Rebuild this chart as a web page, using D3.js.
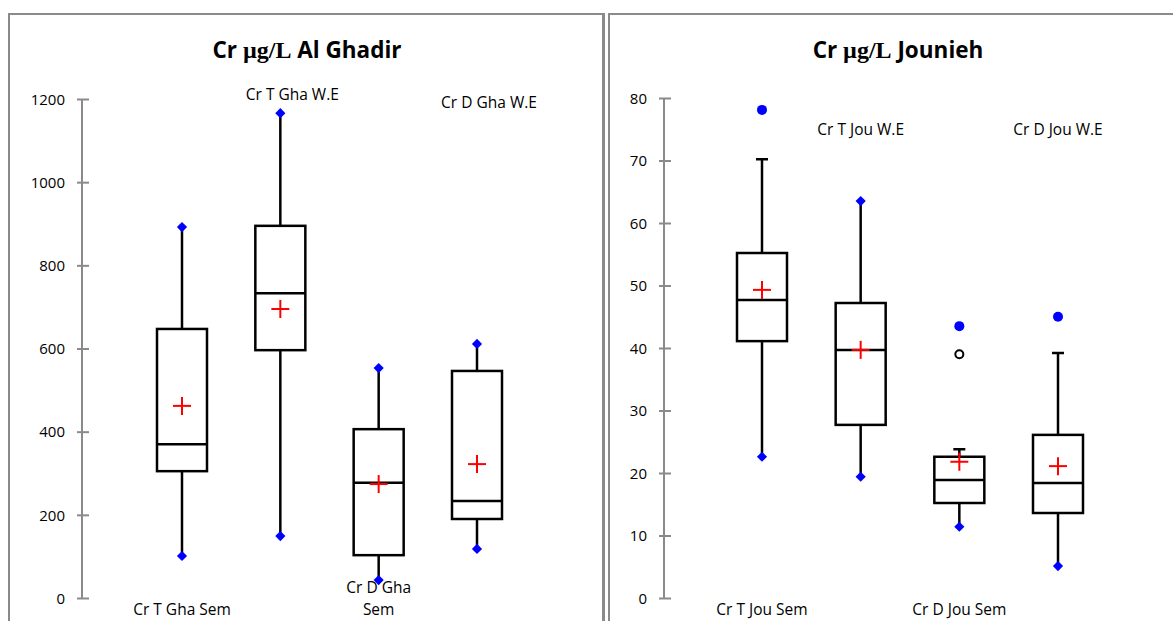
<!DOCTYPE html>
<html>
<head>
<meta charset="utf-8">
<script src="https://cdn.jsdelivr.net/npm/d3@7"></script>
<style>
  html, body { margin: 0; padding: 0; background: #fff; }
  svg { display: block; }
</style>
</head>
<body>
<svg id="chart" width="1173" height="621"></svg>
<script>
// ---------------- DATA ----------------
const ghaCategories = ["Cr T Gha Sem", "Cr T Gha W.E", "Cr D Gha\nSem", "Cr D Gha W.E"];
const ghaQ1        = [305, 596, 103, 190];
const ghaMedian    = [370, 733, 277, 233];
const ghaQ3        = [647, 895, 406, 546];
const ghaMean      = [462, 695, 274, 322];
const ghaWhiskLow  = [101, 149, 43, 118];
const ghaWhiskHigh = [892, 1166, 553, 611];
const ghaMin       = [101, 149, 43, 118];
const ghaMax       = [892, 1166, 553, 611];
const ghaOutliers  = [[], [], [], []];
const ghaTicks     = [0, 200, 400, 600, 800, 1000, 1200];

const jouCategories = ["Cr T Jou Sem", "Cr T Jou W.E", "Cr D Jou Sem", "Cr D Jou W.E"];
const jouQ1        = [41.1, 27.7, 15.2, 13.6];
const jouMedian    = [47.7, 39.7, 18.9, 18.4];
const jouQ3        = [55.2, 47.2, 22.6, 26.1];
const jouMean      = [49.3, 39.7, 21.8, 21.1];
const jouWhiskLow  = [22.6, 19.4, 11.4, 5.1];
const jouWhiskHigh = [70.2, 63.5, 23.8, 39.2];
const jouMin       = [22.6, 19.4, 11.4, 5.1];
const jouMax       = [78.1, 63.5, 43.5, 45.0];
const jouOutliers  = [[], [], [39.0], []];
const jouTicks     = [0, 10, 20, 30, 40, 50, 60, 70, 80];

// ---------------- DRAW ----------------
const svg = d3.select("#chart");
const FONT = "'Open Sans', 'Liberation Sans', sans-serif";

function panel(cfg) {
  const g = svg.append("g");
  // frame
  g.append("rect")
    .attr("x", cfg.frame[0]).attr("y", cfg.frame[1])
    .attr("width", cfg.frame[2]).attr("height", cfg.frame[3])
    .attr("fill", "#fff").attr("stroke", "#8a8a8a").attr("stroke-width", 2);

  // title
  const t = g.append("text")
    .attr("x", cfg.titleX).attr("y", 58)
    .attr("text-anchor", "middle")
    .attr("font-size", 22.5).attr("font-weight", "bold")
    .attr("font-family", FONT).attr("fill", "#000");
  t.append("tspan").text("Cr ");
  t.append("tspan").attr("font-family", "'Liberation Serif', 'Times New Roman', serif").attr("font-size", 24).text("µg/L");
  t.append("tspan").text(" " + cfg.titleRest);

  const y = d3.scaleLinear().domain(cfg.domain).range(cfg.yRange);
  const x = d3.scalePoint().domain(cfg.categories).range(cfg.xRange);

  // axis
  const axis = d3.axisLeft(y).tickValues(cfg.ticks).tickFormat(d3.format("d")).tickSize(0).tickPadding(0);
  const ag = g.append("g").attr("transform", `translate(${cfg.axisX},0)`).call(axis);
  ag.select(".domain").remove();
  ag.selectAll(".tick text")
    .attr("x", -17).attr("dy", "0.35em")
    .attr("font-size", 15).attr("font-family", FONT).attr("fill", "#000");
  ag.append("line")
    .attr("x1", 0).attr("x2", 0)
    .attr("y1", y(cfg.domain[0])).attr("y2", y(cfg.domain[1]))
    .attr("stroke", "#8a8a8a").attr("stroke-width", 2);
  ag.selectAll(".tick").append("line")
    .attr("x1", -5).attr("x2", 7).attr("y1", 0).attr("y2", 0)
    .attr("stroke", "#8a8a8a").attr("stroke-width", 2);

  const bw = 50, half = bw / 2;
  cfg.categories.forEach((c, i) => {
    const cx = x(c);
    const bg = g.append("g");
    // whiskers
    bg.append("line").attr("x1", cx).attr("x2", cx)
      .attr("y1", y(cfg.q3[i])).attr("y2", y(cfg.whiskHigh[i]))
      .attr("stroke", "#000").attr("stroke-width", 2.5);
    bg.append("line").attr("x1", cx).attr("x2", cx)
      .attr("y1", y(cfg.q1[i])).attr("y2", y(cfg.whiskLow[i]))
      .attr("stroke", "#000").attr("stroke-width", 2.5);
    // caps when extreme is an outlier
    if (cfg.max[i] !== cfg.whiskHigh[i]) {
      bg.append("line").attr("x1", cx - 6).attr("x2", cx + 6)
        .attr("y1", y(cfg.whiskHigh[i])).attr("y2", y(cfg.whiskHigh[i]))
        .attr("stroke", "#000").attr("stroke-width", 2.5);
    }
    if (cfg.min[i] !== cfg.whiskLow[i]) {
      bg.append("line").attr("x1", cx - 6).attr("x2", cx + 6)
        .attr("y1", y(cfg.whiskLow[i])).attr("y2", y(cfg.whiskLow[i]))
        .attr("stroke", "#000").attr("stroke-width", 2.5);
    }
    // box
    bg.append("rect")
      .attr("x", cx - half).attr("y", y(cfg.q3[i]))
      .attr("width", bw).attr("height", y(cfg.q1[i]) - y(cfg.q3[i]))
      .attr("fill", "none").attr("stroke", "#000").attr("stroke-width", 2.5);
    bg.append("line").attr("x1", cx - half).attr("x2", cx + half)
      .attr("y1", y(cfg.median[i])).attr("y2", y(cfg.median[i]))
      .attr("stroke", "#000").attr("stroke-width", 2.5);
    // other outliers (hollow)
    cfg.outliers[i].forEach(v => {
      bg.append("circle").attr("cx", cx).attr("cy", y(v)).attr("r", 4)
        .attr("fill", "#fff").attr("stroke", "#000").attr("stroke-width", 2);
    });
    // min / max markers
    const diamond = d3.symbol().type(d3.symbolSquare).size(52)();
    [[cfg.min[i], cfg.whiskLow[i]], [cfg.max[i], cfg.whiskHigh[i]]].forEach(([v, w]) => {
      if (v === w) {
        bg.append("path").attr("d", diamond)
          .attr("transform", `translate(${cx},${y(v)}) rotate(45)`)
          .attr("fill", "#0000ff");
      } else {
        bg.append("circle").attr("cx", cx).attr("cy", y(v)).attr("r", 5)
          .attr("fill", "#0000ff");
      }
    });
    // mean (red plus)
    const my = y(cfg.mean[i]);
    bg.append("line").attr("x1", cx - 9).attr("x2", cx + 9).attr("y1", my).attr("y2", my)
      .attr("stroke", "#ff0000").attr("stroke-width", 2);
    bg.append("line").attr("x1", cx).attr("x2", cx).attr("y1", my - 9).attr("y2", my + 9)
      .attr("stroke", "#ff0000").attr("stroke-width", 2);

    // category labels, alternating bottom / top
    const lines = c.split("\n");
    const lbl = g.append("text")
      .attr("text-anchor", "middle").attr("font-size", 15.5)
      .attr("font-family", FONT).attr("fill", "#000");
    if (i % 2 === 0) {
      const baseY = 615 - (lines.length - 1) * 22;
      lines.forEach((ln, k) => {
        lbl.append("tspan").attr("x", cx).attr("y", baseY + k * 22).text(ln);
      });
    } else {
      lines.forEach((ln, k) => {
        lbl.append("tspan").attr("x", cx + cfg.topLabelDx).attr("y", cfg.topLabelY[(i - 1) / 2] + k * 22).text(ln);
      });
    }
  });
}

panel({
  frame: [9, 14, 595, 640],
  titleX: 307, titleRest: "Al Ghadir",
  domain: [0, 1200], yRange: [598, 99],
  xRange: [182, 477], axisX: 82,
  ticks: ghaTicks, categories: ghaCategories,
  q1: ghaQ1, median: ghaMedian, q3: ghaQ3, mean: ghaMean,
  whiskLow: ghaWhiskLow, whiskHigh: ghaWhiskHigh, min: ghaMin, max: ghaMax,
  outliers: ghaOutliers,
  topLabelDx: 12, topLabelY: [100, 108]
});

panel({
  frame: [609, 14, 600, 640],
  titleX: 898, titleRest: "Jounieh",
  domain: [0, 80], yRange: [598, 98],
  xRange: [762, 1058], axisX: 664,
  ticks: jouTicks, categories: jouCategories,
  q1: jouQ1, median: jouMedian, q3: jouQ3, mean: jouMean,
  whiskLow: jouWhiskLow, whiskHigh: jouWhiskHigh, min: jouMin, max: jouMax,
  outliers: jouOutliers,
  topLabelDx: 0, topLabelY: [135, 135]
});

// inner double line between panels
svg.append("line").attr("x1", 603).attr("x2", 603).attr("y1", 14).attr("y2", 621)
  .attr("stroke", "#8a8a8a").attr("stroke-width", 2);
</script>
</body>
</html>
